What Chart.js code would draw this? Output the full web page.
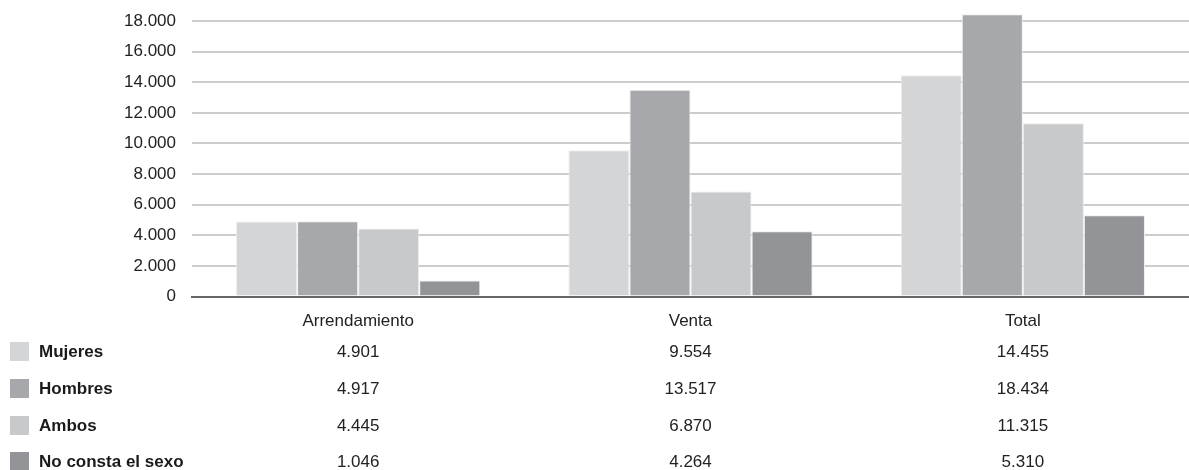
<!DOCTYPE html>
<html>
<head>
<meta charset="utf-8">
<script src="https://cdn.jsdelivr.net/npm/chart.js@4/dist/chart.umd.min.js"></script>
<style>
  html, body { margin: 0; padding: 0; background: #fff; }
  #wrap { width: 1189px; height: 470px; position: relative; }
</style>
</head>
<body>
<div id="wrap"><canvas id="chart"></canvas></div>
<script>
const categories = ['Arrendamiento', 'Venta', 'Total'];
const seriesNames = ['Mujeres', 'Hombres', 'Ambos', 'No consta el sexo'];
const mujeres = [4901, 9554, 14455];
const hombres = [4917, 13517, 18434];
const ambos = [4445, 6870, 11315];
const noConsta = [1046, 4264, 5310];
const colors = ['#d4d5d7', '#a7a8ab', '#c8c9cb', '#939497'];

function fmt(v) {
    return String(v).replace(/\B(?=(\d{3})+(?!\d))/g, '.');
}

const allSeries = [mujeres, hombres, ambos, noConsta];
const FONT = '"Liberation Sans", Arial, sans-serif';

// data table under the chart
const tablePlugin = {
    id: 'dataTable',
    afterDraw(chart) {
        const ctx = chart.ctx;
        const x = chart.scales.x;
        const rowY = [352, 389, 426, 462];
        ctx.save();
        ctx.textBaseline = 'middle';
        seriesNames.forEach((name, i) => {
            const y = rowY[i];
            ctx.fillStyle = colors[i];
            ctx.fillRect(10, y - 10, 19, 19);
            ctx.fillStyle = '#1a1a1a';
            ctx.font = 'bold 17px ' + FONT;
            ctx.textAlign = 'left';
            ctx.fillText(name, 39, y);
            ctx.font = '17px ' + FONT;
            ctx.textAlign = 'center';
            ctx.fillStyle = '#222';
            allSeries[i].forEach((v, j) => {
                ctx.fillText(fmt(v), x.getPixelForValue(j), y);
            });
        });
        ctx.restore();
    }
};

const ctx = document.getElementById('chart').getContext('2d');
new Chart(ctx, {
    type: 'bar',
    data: {
        labels: categories,
        datasets: seriesNames.map((name, i) => ({
            label: name,
            data: allSeries[i],
            backgroundColor: colors[i],
            borderColor: '#eeeeee',
            borderWidth: 1,
            barPercentage: 1,
            categoryPercentage: 0.735,
            clip: false
        }))
    },
    options: {
        responsive: true,
        maintainAspectRatio: false,
        animation: false,
        layout: { padding: { left: 108, right: 0, top: 21, bottom: 131 } },
        plugins: {
            legend: { display: false },
            tooltip: { enabled: false }
        },
        scales: {
            x: {
                grid: { display: false },
                border: { color: '#666', width: 2 },
                ticks: {
                    color: '#222',
                    padding: 7,
                    font: { family: FONT, size: 17 }
                }
            },
            y: {
                min: 0,
                max: 18000,
                afterFit(scale) {
                    scale.paddingTop = 0;
                },
                ticks: {
                    stepSize: 2000,
                    color: '#222',
                    padding: 16,
                    font: { family: FONT, size: 17 },
                    callback: v => fmt(v)
                },
                grid: { color: '#cccccc', lineWidth: 2, drawTicks: false },
                border: { display: false }
            }
        }
    },
    plugins: [tablePlugin]
});
</script>
</body>
</html>
